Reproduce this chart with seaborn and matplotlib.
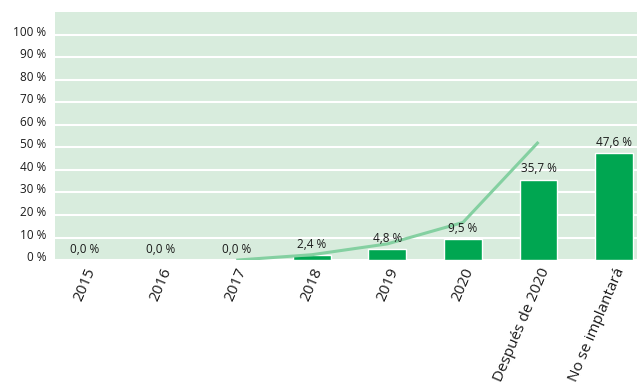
import matplotlib
matplotlib.use("Agg")
import matplotlib.pyplot as plt
import matplotlib.transforms as mtransforms
import seaborn as sns
import pandas as pd

categories = ["2015", "2016", "2017", "2018", "2019", "2020", "Después de 2020", "No se implantará"]
values = [0.0, 0.0, 0.0, 2.4, 4.8, 9.5, 35.7, 47.6]
line_categories = ["2017", "2018", "2019", "2020", "Después de 2020"]
line_values = [0.0, 2.4, 7.2, 16.7, 52.4]
yticks = [0, 10, 20, 30, 40, 50, 60, 70, 80, 90, 100]

sns.set_theme(style="white")
plt.rcParams['font.family'] = ['Open Sans', 'DejaVu Sans']

fig = plt.figure(figsize=(6.38, 3.90), dpi=100)
ax = fig.add_axes([0.086, 0.333, 0.912, 0.636])
ax.set_facecolor("#d8ecdd")

df = pd.DataFrame({"cat": categories, "val": values})
sns.barplot(data=df, x="cat", y="val", color="#00a651", saturation=1, width=0.5, ax=ax, zorder=3)

ax.set_ylim(0, 110)
ax.set_xlim(-0.4, 7.3)
ax.set_yticks(yticks)
ax.set_yticklabels([f"{t} %" for t in yticks], fontsize=8.5, color="#1a1a1a")
ax.yaxis.grid(True, color="white", linewidth=1.5, zorder=0)
ax.set_axisbelow(True)
ax.tick_params(axis="y", length=0, pad=6)
ax.tick_params(axis="x", length=0, pad=4)
shift = mtransforms.ScaledTranslation(0, 4 / 100, fig.dpi_scale_trans)
for lab in ax.get_yticklabels():
    lab.set_transform(lab.get_transform() + shift)
ax.set_xticks(range(len(categories)))
ax.set_xticklabels(categories, rotation=67, ha="right", rotation_mode="anchor", fontsize=11, color="#1a1a1a")
for s in ax.spines.values():
    s.set_visible(False)
ax.set_xlabel("")
ax.set_ylabel("")

lx = [categories.index(c) for c in line_categories]
ax.plot(lx, line_values, color="#84d0a1", linewidth=2.2, zorder=4, solid_capstyle="butt")

for i, v in enumerate(values):
    ax.annotate(f"{v:.1f} %".replace(".", ","), (i, v), xytext=(0, 3), textcoords="offset points",
                ha="center", va="bottom", fontsize=8.5, color="#1a1a1a", zorder=5)

fig.savefig("out.png", dpi=100)
